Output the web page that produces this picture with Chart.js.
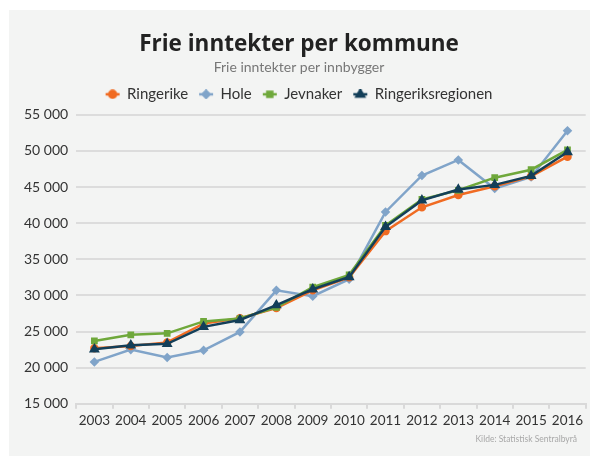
<!DOCTYPE html>
<html>
<head>
<meta charset="utf-8">
<script src="https://cdn.jsdelivr.net/npm/chart.js@4.4.1/dist/chart.umd.min.js"></script>
<style>
  html, body { margin: 0; padding: 0; background: #ffffff; }
  #wrap { width: 592px; height: 456px; }
</style>
</head>
<body>
<div id="wrap"><canvas id="myChart" width="592" height="456"></canvas></div>
<script>
// data
let years = ['2003','2004','2005','2006','2007','2008','2009','2010','2011','2012','2013','2014','2015','2016'];
let ringerike = [22700, 23000, 23500, 26100, 26850, 28250, 30700, 32500, 38900, 42200, 43900, 45100, 46500, 49200];
let hole = [20800, 22500, 21400, 22400, 24950, 30700, 29900, 32250, 41550, 46600, 48750, 44800, 46400, 52800];
let jevnaker = [23700, 24550, 24750, 26400, 26800, 28350, 31150, 32850, 39700, 43300, 44550, 46300, 47400, 50150];
let regionen = [22550, 23100, 23300, 25650, 26600, 28650, 30850, 32550, 39500, 43150, 44650, 45300, 46550, 49850];

let FONT = 'Lato, "Open Sans", sans-serif';

// grey panel, source note, and a bit of room under the legend
const panel = {
    id: 'panel',
    beforeUpdate(chart) {
        let lg = chart.legend;
        if (lg && !lg._padded) {
            let fit = lg.fit;
            lg.fit = function () {
                fit.call(this);
                this.height += 3;
            };
            lg._padded = true;
        }
    },
    beforeDraw(chart) {
        let ctx = chart.ctx;
        ctx.save();
        ctx.fillStyle = '#ffffff';
        ctx.fillRect(0, 0, chart.width, chart.height);
        ctx.fillStyle = '#f3f4f3';
        ctx.fillRect(9, 10, 581, 446);
        ctx.restore();
    },
    afterDraw(chart) {
        let ctx = chart.ctx;
        ctx.save();
        ctx.font = '8.5px ' + FONT;
        ctx.fillStyle = '#a8a8a8';
        ctx.textAlign = 'right';
        ctx.textBaseline = 'middle';
        ctx.fillText('Kilde: Statistisk Sentralbyrå', 577, 439);
        ctx.restore();
    }
};

// small line + marker icon for the legend
function legendIcon(ds) {
    let c = document.createElement('canvas');
    c.width = 16;
    c.height = 10;
    let g = c.getContext('2d');
    g.strokeStyle = ds.borderColor;
    g.lineWidth = 2.5;
    g.beginPath();
    g.moveTo(1, 5);
    g.lineTo(15, 5);
    g.stroke();
    Chart.helpers.drawPoint(g, {
        pointStyle: ds.pointStyle,
        radius: ds.pointRadius + 0.5,
        borderWidth: 1,
        rotation: 0
    }, 8, 5);
    g.fillStyle = ds.borderColor;
    g.fill();
    return c;
}

function serie(label, data, color, style, radius, order) {
    return {
        label: label,
        data: data,
        borderColor: color,
        backgroundColor: color,
        pointBackgroundColor: color,
        pointBorderColor: color,
        pointStyle: style,
        pointRadius: radius,
        pointHoverRadius: radius,
        borderWidth: 2.5,
        tension: 0,
        order: order
    };
}

let ctx = document.getElementById('myChart').getContext('2d');
let myChart = new Chart(ctx, {
    type: 'line',
    data: {
        labels: years,
        datasets: [
            serie('Ringerike', ringerike, '#f06b22', 'circle', 3, 2),
            serie('Hole', hole, '#80a4c9', 'rectRot', 3, 3),
            serie('Jevnaker', jevnaker, '#6fa83b', 'rect', 3, 1),
            serie('Ringeriksregionen', regionen, '#133f59', 'triangle', 3.8, 0)
        ]
    },
    plugins: [panel],
    options: {
        responsive: false,
        animation: false,
        layout: { padding: { left: 8, right: 2, top: 31, bottom: 23 } },
        plugins: {
            title: {
                display: true,
                text: 'Frie inntekter per kommune',
                color: '#222222',
                font: { family: '"Open Sans", Lato, sans-serif', size: 22.5, weight: 'bold' },
                padding: { top: 0, bottom: 0 }
            },
            subtitle: {
                display: true,
                text: 'Frie inntekter per innbygger',
                color: '#777777',
                font: { family: FONT, size: 14 },
                padding: { top: 1, bottom: 0 }
            },
            legend: {
                position: 'top',
                labels: {
                    usePointStyle: true,
                    pointStyleWidth: 14,
                    boxHeight: 10,
                    color: '#333333',
                    font: { family: FONT, size: 15 },
                    padding: 11,
                    sort: (a, b) => a.datasetIndex - b.datasetIndex,
                    generateLabels: function (chart) {
                        let items = Chart.defaults.plugins.legend.labels.generateLabels(chart);
                        items.forEach(function (it) {
                            it.pointStyle = legendIcon(chart.data.datasets[it.datasetIndex]);
                        });
                        return items;
                    }
                }
            },
            tooltip: { enabled: false }
        },
        scales: {
            x: {
                offset: true,
                grid: {
                    offset: true,
                    drawOnChartArea: false,
                    drawTicks: true,
                    tickLength: 5,
                    color: '#d9d9d9',
                    lineWidth: 2
                },
                border: { display: true, color: '#d9d9d9', width: 2 },
                ticks: {
                    color: '#333333',
                    font: { family: FONT, size: 13.5 },
                    padding: 4,
                    maxRotation: 0,
                    autoSkip: false
                }
            },
            y: {
                min: 15000,
                max: 55000,
                afterFit: function (scale) { scale.width += 8; },
                grid: { color: '#dcdcdc', lineWidth: 2, drawTicks: false },
                border: { display: false },
                ticks: {
                    stepSize: 5000,
                    color: '#333333',
                    font: { family: FONT, size: 14 },
                    padding: 8,
                    callback: function (v) {
                        return String(v).replace(/\B(?=(\d{3})+(?!\d))/g, ' ');
                    }
                }
            }
        }
    }
});
</script>
</body>
</html>
